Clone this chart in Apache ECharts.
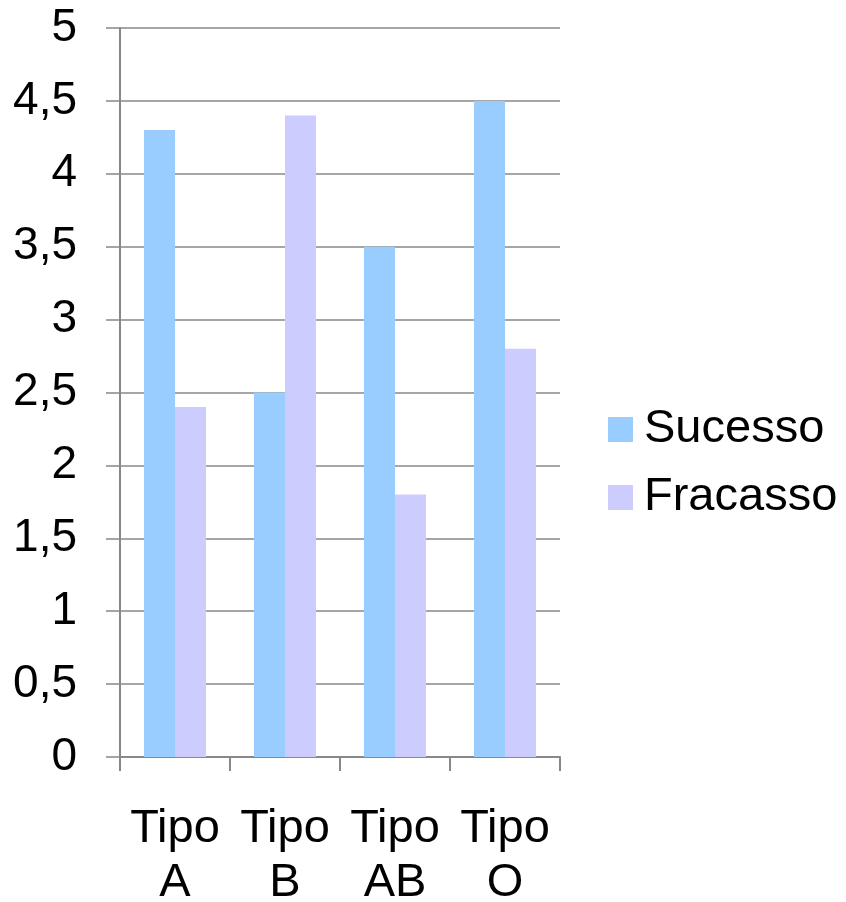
<!DOCTYPE html>
<html>
<head>
<meta charset="utf-8">
<script src="https://cdn.jsdelivr.net/npm/echarts@6/dist/echarts.min.js"></script>
<style>
  html, body { margin: 0; padding: 0; background: #fff; }
  #chart { width: 846px; height: 902px; }
</style>
</head>
<body>
<div id="chart"></div>
<script>
// Blood types and outcome counts
const categories = ['Tipo\nA', 'Tipo\nB', 'Tipo\nAB', 'Tipo\nO'];
const sucesso = [4.3, 2.5, 3.5, 4.5];
const fracasso = [2.4, 4.4, 1.8, 2.8];

const FONT = '"Liberation Sans", Arial, sans-serif';
const chart = echarts.init(document.getElementById('chart'), null, { renderer: 'canvas' });

chart.setOption({
  animation: false,
  backgroundColor: '#ffffff',
  textStyle: { fontFamily: FONT },
  grid: {
    left: 120, right: 286, top: 28, bottom: 145,
    containLabel: false,
    outerBoundsMode: 'none'
  },
  legend: {
    orient: 'vertical',
    left: 603,
    top: 401,
    itemWidth: 25,
    itemHeight: 25,
    itemGap: 21,
    icon: 'rect',
    textStyle: { fontSize: 47, color: '#000', fontFamily: FONT, padding: [0, 0, 0, 6] },
    data: ['Sucesso', 'Fracasso']
  },
  xAxis: {
    type: 'category',
    data: categories,
    axisLine: { lineStyle: { color: '#888888', width: 2 } },
    axisTick: { show: true, length: 14, lineStyle: { color: '#888888', width: 2 } },
    axisLabel: {
      color: '#000', fontSize: 47, fontFamily: FONT, margin: 45,
      lineHeight: 54, interval: 0
    },
    splitLine: { show: false }
  },
  yAxis: {
    type: 'value',
    min: 0,
    max: 5,
    interval: 0.5,
    axisLine: { show: true, lineStyle: { color: '#888888', width: 2 } },
    axisTick: { show: true, length: 14, lineStyle: { color: '#888888', width: 1.5 } },
    axisLabel: {
      color: '#000', fontSize: 46, fontFamily: FONT, margin: 43,
      formatter: v => String(v).replace('.', ',')
    },
    splitLine: { show: true, lineStyle: { color: '#888888', width: 1.5 } }
  },
  series: [
    {
      name: 'Sucesso', type: 'bar', data: sucesso,
      barWidth: 31, barGap: '0%',
      itemStyle: { color: '#99CCFF' }
    },
    {
      name: 'Fracasso', type: 'bar', data: fracasso,
      barWidth: 31, barGap: '0%',
      itemStyle: { color: '#CCCCFF' }
    }
  ]
});
</script>
</body>
</html>
